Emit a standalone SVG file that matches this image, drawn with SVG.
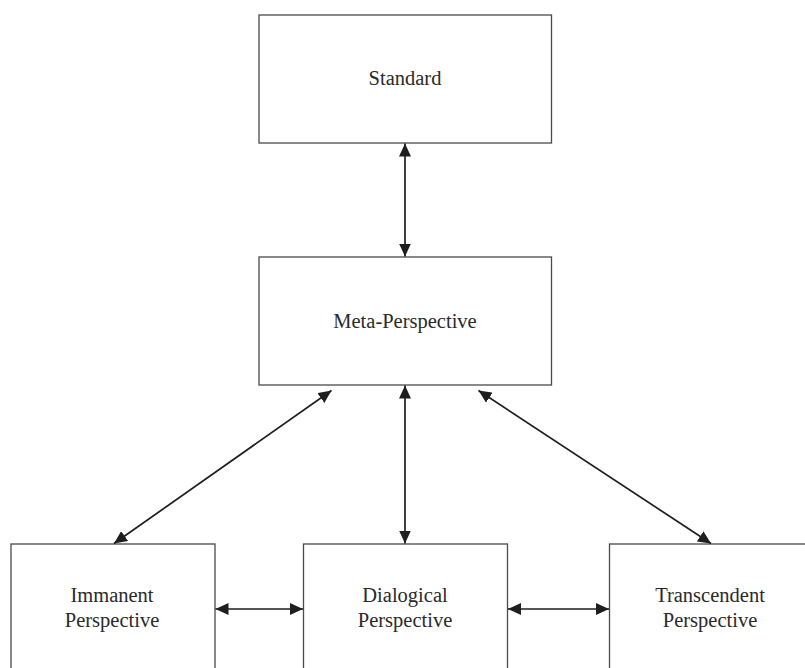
<svg xmlns="http://www.w3.org/2000/svg" width="805" height="668" viewBox="0 0 805 668">
<style>
.box{fill:#fff;stroke:#4a4a4a;stroke-width:1.3}
.lbl{font-family:"Liberation Serif","Times New Roman",serif;font-size:20.5px;fill:#2a2a2a;text-anchor:middle}
.con{stroke:#1e1e1e;stroke-width:1.7;fill:none;marker-start:url(#ah);marker-end:url(#ah)}
</style>
<defs>
<marker id="ah" markerUnits="userSpaceOnUse" markerWidth="14" markerHeight="12" refX="13" refY="6" orient="auto-start-reverse">
<path d="M0,0 L13,6 L0,12 z" fill="#1e1e1e"/>
</marker>
</defs>
<rect width="805" height="668" fill="#fff"/>
<g id="standard"><rect class="box" x="259" y="15" width="292.5" height="128"/><text class="lbl" x="405" y="85">Standard</text></g>
<g id="meta"><rect class="box" x="259" y="257" width="292.5" height="128"/><text class="lbl" x="405" y="328">Meta-Perspective</text></g>
<g id="immanent"><rect class="box" x="11" y="544" width="204" height="140"/><text class="lbl" x="112" y="602">Immanent</text><text class="lbl" x="112" y="627">Perspective</text></g>
<g id="dialogical"><rect class="box" x="303.5" y="544" width="204" height="140"/><text class="lbl" x="405" y="602">Dialogical</text><text class="lbl" x="405" y="627">Perspective</text></g>
<g id="transcendent"><rect class="box" x="609.5" y="544" width="204" height="140"/><text class="lbl" x="710" y="602">Transcendent</text><text class="lbl" x="710" y="627">Perspective</text></g>
<g id="connectors">
<line class="con" x1="405" y1="143.5" x2="405" y2="256.5"/>
<line class="con" x1="405" y1="385.5" x2="405" y2="543.5"/>
<line class="con" x1="331.5" y1="390.5" x2="114" y2="543.5"/>
<line class="con" x1="478.5" y1="390.5" x2="711" y2="543.5"/>
<line class="con" x1="215.5" y1="609" x2="303" y2="609"/>
<line class="con" x1="508" y1="609" x2="609" y2="609"/>
</g>
</svg>
